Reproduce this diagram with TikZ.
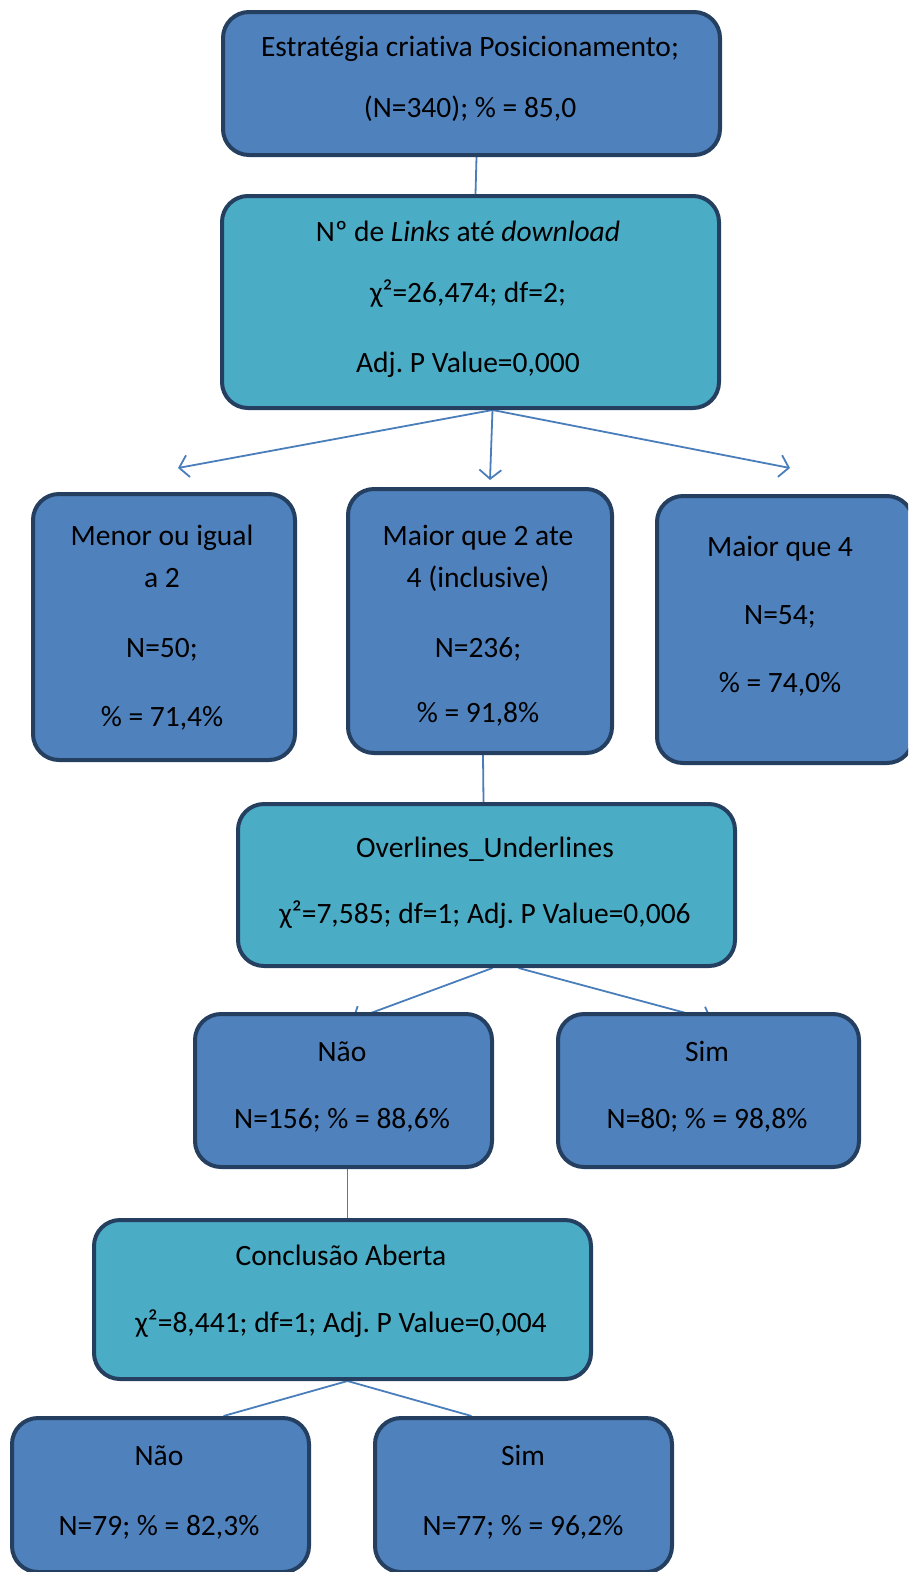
\documentclass[tikz,border=0pt]{standalone}
\usepackage{fontspec}
\setmainfont{Carlito}[Ligatures=NoCommon]
\frenchspacing
\usetikzlibrary{arrows.meta}
\pgfdeclarelayer{bg}
\pgfsetlayers{bg,main}
\definecolor{boxblue}{HTML}{4F81BD}
\definecolor{boxteal}{HTML}{4BACC6}
\definecolor{boxedge}{HTML}{243F60}
\definecolor{linkblue}{HTML}{4A7EBB}
\tikzset{
  box/.style={draw=boxedge, line width=4pt, rounded corners=26pt, anchor=north west, inner sep=0pt},
  leaf/.style={box, fill=boxblue},
  split/.style={box, fill=boxteal},
  txt/.style={anchor=base, inner sep=0pt, font=\fontsize{29.5}{34}\selectfont},
  link/.style={draw=linkblue, line width=1.8pt},
  arr/.style={link, -{Straight Barb[length=9pt, width=22pt, line width=1.8pt]}}
}
\begin{document}
\begin{tikzpicture}[x=1pt,y=-1pt]
\useasboundingbox (0,0) rectangle (908,1572);
\begin{scope}
\clip (0,0) rectangle (908,1572);
% boxes
\node[leaf,  minimum width=497pt, minimum height=143pt] (b1) at (221,10) {};
\node[split, minimum width=497pt, minimum height=212pt] (b2) at (220,194) {};
\node[leaf,  minimum width=262pt, minimum height=266pt] (b3) at (31,492) {};
\node[leaf,  minimum width=264pt, minimum height=264pt] (b4) at (346,487) {};
\node[leaf,  minimum width=256pt, minimum height=267pt] (b5) at (655,494) {};
\node[split, minimum width=497pt, minimum height=162pt] (b6) at (236,802) {};
\node[leaf,  minimum width=297pt, minimum height=153pt] (b7) at (193,1012) {};
\node[leaf,  minimum width=301pt, minimum height=153pt] (b8) at (556,1012) {};
\node[split, minimum width=497pt, minimum height=159pt] (b9) at (92,1218) {};
\node[leaf,  minimum width=297pt, minimum height=154pt] (b10) at (10,1416) {};
\node[leaf,  minimum width=297pt, minimum height=154pt] (b11) at (373,1416) {};

% texts
\node[txt] (t1a) at (470,56) {Estratégia criativa Posicionamento;};
\node[txt] (t1b) at (470,117) {(N=340); \% = 85,0};
\node[txt] (t2a) at (468,241) {Nº de \textit{Links} até \textit{download}};
\node[txt] (t2b) at (468,302) {χ²=26,474; df=2;};
\node[txt] (t2c) at (468,372) {Adj. P Value=0,000};
\node[txt] (t3a) at (162,545) {Menor ou igual};
\node[txt] (t3b) at (162,587) {a 2};
\node[txt] (t3c) at (162,657) {N=50;};
\node[txt] (t3d) at (162,726) {\% = 71,4\%};
\node[txt] (t4a) at (478,545) {Maior que 2 ate};
\node[txt] (t4b) at (478,587) {4 (inclusive)};
\node[txt] (t4c) at (478,657) {N=236;};
\node[txt] (t4d) at (478,722) {\% = 91,8\%};
\node[txt] (t5a) at (780,556) {Maior que 4};
\node[txt] (t5b) at (780,624) {N=54;};
\node[txt] (t5c) at (780,692) {\% = 74,0\%};
\node[txt] (t6a) at (485,857) {Overlines\_Underlines};
\node[txt] (t6b) at (485,923) {χ²=7,585; df=1; Adj. P Value=0,006};
\node[txt] (t7a) at (342,1061) {Não};
\node[txt] (t7b) at (342,1128) {N=156; \% = 88,6\%};
\node[txt] (t8a) at (707,1061) {Sim};
\node[txt] (t8b) at (707,1128) {N=80; \% = 98,8\%};
\node[txt] (t9a) at (341,1265) {Conclusão Aberta};
\node[txt] (t9b) at (341,1332) {χ²=8,441; df=1; Adj. P Value=0,004};
\node[txt] (t10a) at (159,1465) {Não};
\node[txt] (t10b) at (159,1535) {N=79; \% = 82,3\%};
\node[txt] (t11a) at (523,1465) {Sim};
\node[txt] (t11b) at (523,1535) {N=77; \% = 96,2\%};

% free arrow ends
\coordinate (e3) at (178,468);
\coordinate (e4) at (490,480);
\coordinate (e5) at (790,468);
\coordinate (e7) at (352,1020);
\coordinate (e8) at (712,1020);

% connectors behind the boxes
\begin{pgfonlayer}{bg}
\draw[link] ([xshift=5pt]b1.south) -- ([xshift=5pt]b2.north);
\draw[arr] ([xshift=22pt]b2.south) -- (e3);
\draw[arr] ([xshift=22pt]b2.south) -- (e4);
\draw[arr] ([xshift=22pt]b2.south) -- (e5);
\draw[link] ([xshift=3pt]b4.south) -- ([xshift=-3pt]b6.north);
\draw[arr] ([xshift=6pt]b6.south) -- (e7);
\draw[arr] ([xshift=32pt]b6.south) -- (e8);
\draw[link] ([xshift=4pt]b7.south) -- ([xshift=5pt]b9.north);
\draw[link] ([xshift=5pt]b9.south) -- ([xshift=63pt]b10.north);
\draw[link] ([xshift=5pt]b9.south) -- ([xshift=-52pt]b11.north);
\end{pgfonlayer}
\end{scope}
\end{tikzpicture}
\end{document}
